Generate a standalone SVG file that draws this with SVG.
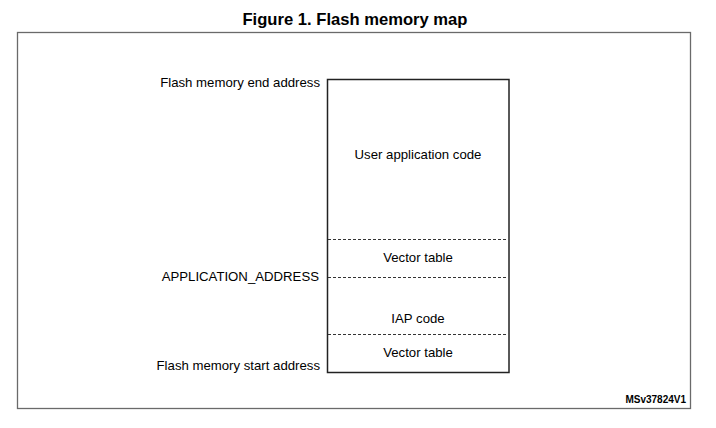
<svg xmlns="http://www.w3.org/2000/svg" width="716" height="428" viewBox="0 0 716 428">
<style>
text{font-family:"Liberation Sans",Arial,sans-serif;fill:#000}
.lbl{font-size:13.2px}
.title{font-size:16.6px;font-weight:bold}
.id{font-size:10px;font-weight:bold}
.frame{fill:none;stroke:#6a6a6a;stroke-width:1.3}
.box{fill:#fff;stroke:#222;stroke-width:1.5}
.dash{stroke:#333;stroke-width:1;stroke-dasharray:3,2;fill:none}
</style>
<rect width="716" height="428" fill="#fff"/>
<text class="title" x="355" y="25" text-anchor="middle">Figure 1. Flash memory map</text>
<rect class="frame" x="17.5" y="32.5" width="673" height="376"/>
<g id="memory">
<rect class="box" x="327.5" y="79.5" width="181.5" height="293"/>
<text class="lbl" x="418" y="159" text-anchor="middle">User application code</text>
<text class="lbl" x="418" y="262" text-anchor="middle">Vector table</text>
<text class="lbl" x="418" y="323" text-anchor="middle">IAP code</text>
<text class="lbl" x="418" y="357" text-anchor="middle">Vector table</text>
</g>
<g id="connectors">
<line class="dash" x1="328" y1="239.5" x2="508" y2="239.5"/>
<line class="dash" x1="328" y1="277.5" x2="508" y2="277.5"/>
<line class="dash" x1="328" y1="334.5" x2="508" y2="334.5"/>
</g>
<g id="labels">
<text class="lbl" x="320" y="87" text-anchor="end">Flash memory end address</text>
<text class="lbl" x="319" y="281" text-anchor="end">APPLICATION_ADDRESS</text>
<text class="lbl" x="320" y="370" text-anchor="end">Flash memory start address</text>
</g>
<text class="id" x="686" y="403" text-anchor="end">MSv37824V1</text>
</svg>
